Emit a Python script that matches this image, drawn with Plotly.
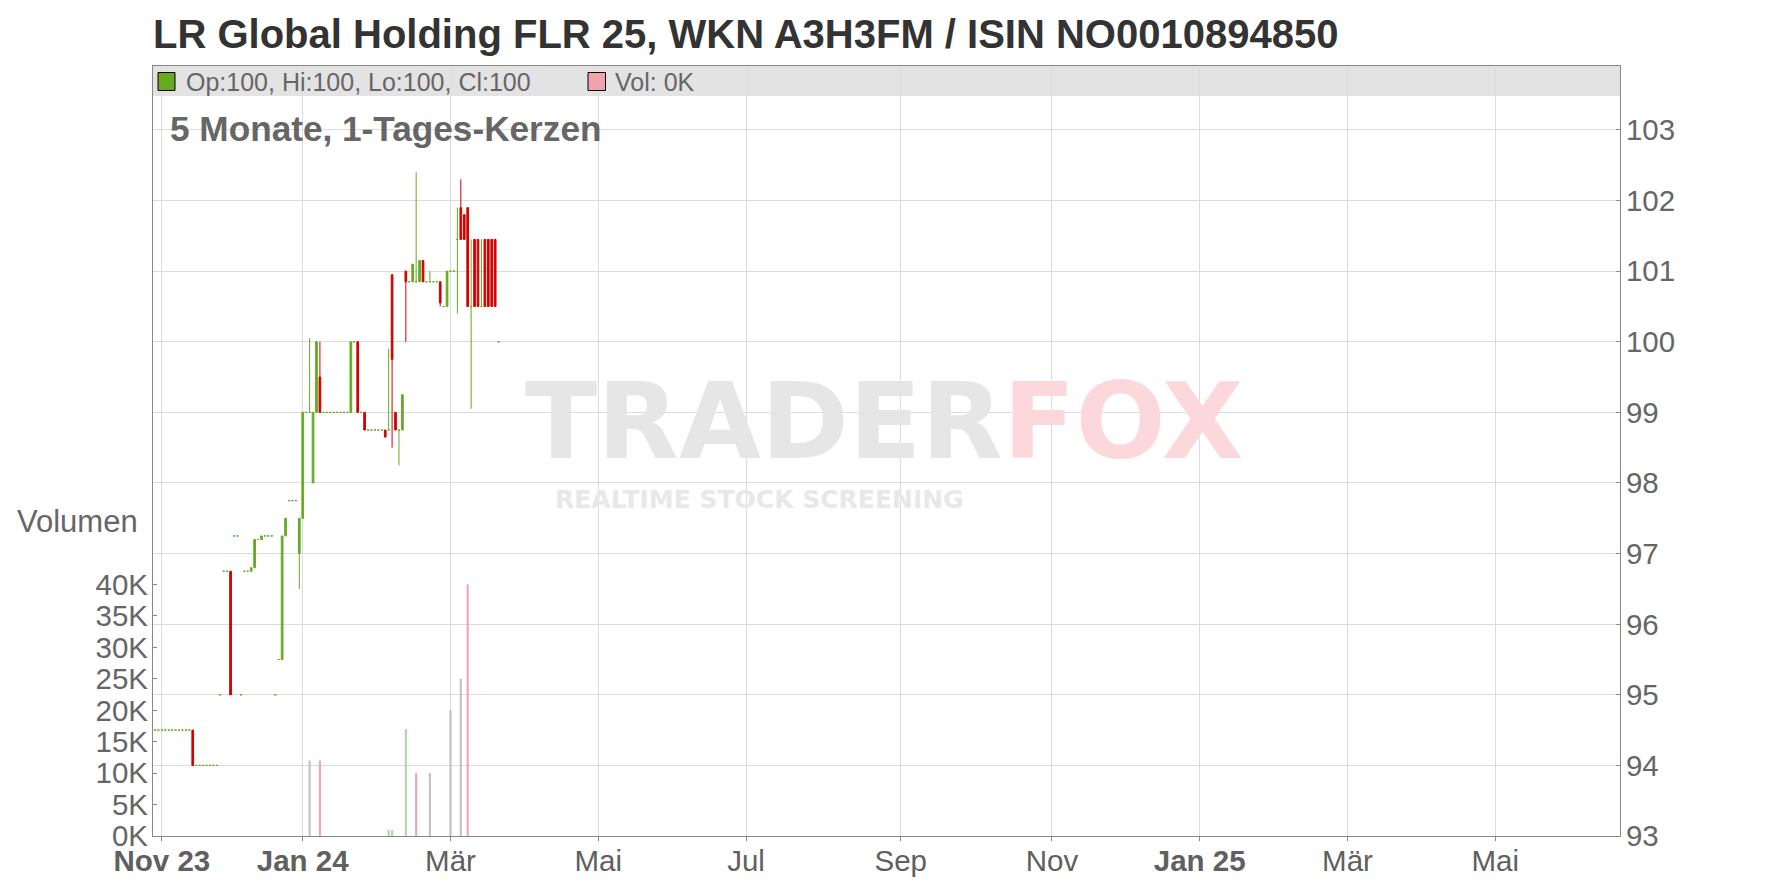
import plotly.graph_objects as go

# ---------------- data ----------------
TITLE = "LR Global Holding FLR 25, WKN A3H3FM / ISIN NO0010894850"
SUBTITLE = "5 Monate, 1-Tages-Kerzen"
LEGEND_OHLC = "Op:100, Hi:100, Lo:100, Cl:100"
LEGEND_VOL = "Vol: 0K"
VOL_TITLE = "Volumen"

dates = [
    "2023-10-27", "2023-10-30", "2023-10-31", "2023-11-01", "2023-11-02", "2023-11-03",
    "2023-11-06", "2023-11-07", "2023-11-08", "2023-11-09", "2023-11-10", "2023-11-13",
    "2023-11-14",
    "2023-11-15", "2023-11-16", "2023-11-17", "2023-11-20", "2023-11-21", "2023-11-22", "2023-11-23",
    "2023-11-24",
    "2023-11-27", "2023-11-28",
    "2023-11-29",
    "2023-11-30", "2023-12-01",
    "2023-12-04",
    "2023-12-05", "2023-12-06",
    "2023-12-07", "2023-12-08",
    "2023-12-11", "2023-12-12",
    "2023-12-13", "2023-12-14", "2023-12-15",
    "2023-12-18", "2023-12-19",
    "2023-12-20", "2023-12-21",
    "2023-12-22", "2023-12-27", "2023-12-28",
    "2023-12-29",
    "2024-01-02", "2024-01-03", "2024-01-04", "2024-01-05", "2024-01-08", "2024-01-09",
    "2024-01-10", "2024-01-11", "2024-01-12", "2024-01-15", "2024-01-16", "2024-01-17", "2024-01-18", "2024-01-19",
    "2024-01-22", "2024-01-23", "2024-01-24", "2024-01-25", "2024-01-26",
    "2024-01-29", "2024-01-30", "2024-01-31", "2024-02-01", "2024-02-02",
    "2024-02-05", "2024-02-06", "2024-02-07", "2024-02-08", "2024-02-09", "2024-02-12", "2024-02-13",
    "2024-02-14", "2024-02-15", "2024-02-16", "2024-02-19", "2024-02-20", "2024-02-21", "2024-02-22", "2024-02-23", "2024-02-26",
    "2024-02-27", "2024-02-28", "2024-02-29", "2024-03-01", "2024-03-04",
    "2024-03-05", "2024-03-06", "2024-03-07", "2024-03-08",
    "2024-03-11", "2024-03-12", "2024-03-13", "2024-03-14", "2024-03-15", "2024-03-18", "2024-03-19", "2024-03-20",
    "2024-03-21",
]

opens = [
    94.5, 94.5, 94.5, 94.5, 94.5, 94.5, 94.5, 94.5, 94.5, 94.5, 94.5, 94.5,
    94.5,
    94.0, 94.0, 94.0, 94.0, 94.0, 94.0, 94.0,
    95.0,
    96.75, 96.75,
    96.75,
    97.25, 97.25,
    95.0,
    96.75, 96.75,
    96.75, 96.8,
    97.2, 97.2,
    97.25, 97.25, 97.25,
    95.0, 95.5,
    95.5, 97.25,
    97.75, 97.75, 97.75,
    97.0,
    97.5, 99.0, 99.0, 98.0, 99.0, 99.5,
    99.0, 99.0, 99.0, 99.0, 99.0, 99.0, 99.0, 99.0,
    99.0, 100.0, 100.0, 99.0, 99.0,
    98.75, 98.75, 98.75, 98.75, 98.75,
    98.75, 98.75, 100.95, 99.0, 98.75, 98.75, 101.0,
    100.85, 100.85, 100.85, 100.85, 101.15, 100.85, 100.85, 100.85, 100.85,
    100.85, 100.5, 100.5, 101.0, 101.0,
    101.45, 101.9, 101.8, 101.9,
    100.5, 101.45, 101.45, 100.5, 101.45, 101.45, 101.45, 101.45,
    100.0,
]

highs = [
    94.5, 94.5, 94.5, 94.5, 94.5, 94.5, 94.5, 94.5, 94.5, 94.5, 94.5, 94.5,
    94.5,
    94.0, 94.0, 94.0, 94.0, 94.0, 94.0, 94.0,
    95.0,
    96.75, 96.75,
    96.75,
    97.25, 97.25,
    95.0,
    96.75, 96.75,
    96.8, 97.2,
    97.2, 97.25,
    97.25, 97.25, 97.25,
    95.0, 95.5,
    97.25, 97.5,
    97.75, 97.75, 97.75,
    97.5,
    99.0, 99.0, 100.05, 99.0, 100.0, 100.0,
    99.0, 99.0, 99.0, 99.0, 99.0, 99.0, 99.0, 99.0,
    100.0, 100.0, 100.0, 99.0, 99.0,
    98.75, 98.75, 98.75, 98.75, 98.75,
    98.75, 99.9, 100.95, 99.0, 98.75, 99.25, 101.0,
    100.85, 101.1, 102.4, 101.15, 101.15, 100.85, 101.0, 100.85, 100.85,
    100.85, 100.5, 101.0, 101.0, 101.0,
    101.9, 102.3, 101.8, 101.9,
    101.45, 101.45, 101.45, 101.45, 101.45, 101.45, 101.45, 101.45,
    100.0,
]

lows = [
    94.5, 94.5, 94.5, 94.5, 94.5, 94.5, 94.5, 94.5, 94.5, 94.5, 94.5, 94.5,
    94.0,
    94.0, 94.0, 94.0, 94.0, 94.0, 94.0, 94.0,
    95.0,
    96.75, 96.75,
    95.0,
    97.25, 97.25,
    95.0,
    96.75, 96.75,
    96.75, 96.8,
    97.2, 97.2,
    97.25, 97.25, 97.25,
    95.0, 95.5,
    95.5, 97.25,
    97.75, 97.75, 97.75,
    96.5,
    97.5, 99.0, 99.0, 98.0, 99.0, 99.0,
    99.0, 99.0, 99.0, 99.0, 99.0, 99.0, 99.0, 99.0,
    99.0, 100.0, 99.0, 99.0, 98.75,
    98.75, 98.75, 98.75, 98.75, 98.75,
    98.65, 98.75, 98.5, 98.75, 98.25, 98.75, 100.0,
    100.85, 100.85, 100.85, 100.85, 100.85, 100.85, 100.85, 100.85, 100.85,
    100.5, 100.5, 100.5, 101.0, 101.0,
    100.4, 101.45, 101.45, 100.5,
    99.05, 100.5, 100.5, 100.5, 100.5, 100.5, 100.5, 100.5,
    100.0,
]

closes = [
    94.5, 94.5, 94.5, 94.5, 94.5, 94.5, 94.5, 94.5, 94.5, 94.5, 94.5, 94.5,
    94.0,
    94.0, 94.0, 94.0, 94.0, 94.0, 94.0, 94.0,
    95.0,
    96.75, 96.75,
    95.0,
    97.25, 97.25,
    95.0,
    96.75, 96.75,
    96.8, 97.2,
    97.2, 97.25,
    97.25, 97.25, 97.25,
    95.0, 95.5,
    97.25, 97.5,
    97.75, 97.75, 97.75,
    97.5,
    99.0, 99.0, 99.0, 99.0, 100.0, 99.0,
    99.0, 99.0, 99.0, 99.0, 99.0, 99.0, 99.0, 99.0,
    100.0, 100.0, 99.0, 99.0, 98.75,
    98.75, 98.75, 98.75, 98.75, 98.75,
    98.65, 98.75, 99.75, 98.75, 98.75, 99.25, 100.85,
    100.85, 101.1, 100.85, 101.15, 100.85, 100.85, 100.85, 100.85, 100.85,
    100.55, 100.5, 101.0, 101.0, 101.0,
    101.45, 101.45, 101.45, 100.5,
    100.5, 100.5, 100.5, 100.5, 100.5, 100.5, 100.5, 100.5,
    100.0,
]

vol_dates = ["2024-01-04", "2024-01-09", "2024-02-06", "2024-02-07", "2024-02-13",
             "2024-02-16", "2024-02-22", "2024-03-01", "2024-03-06", "2024-03-08"]
vol_values = [12000, 12000, 950, 950, 17000, 10000, 10000, 20000, 25000, 40000]
vol_dirs = ["flat", "down", "up", "up", "up", "down", "flat", "flat", "flat", "down"]

price_ticks = [93, 94, 95, 96, 97, 98, 99, 100, 101, 102, 103]
vol_tickvals = [0, 5000, 10000, 15000, 20000, 25000, 30000, 35000, 40000]
vol_ticktext = ["0K", "5K", "10K", "15K", "20K", "25K", "30K", "35K", "40K"]
x_tickvals = ["2023-11-01", "2024-01-02", "2024-03-01", "2024-05-01", "2024-07-01",
              "2024-09-02", "2024-11-01", "2025-01-01", "2025-03-03", "2025-05-01"]
x_ticktext = ["<b>Nov 23</b>", "<b>Jan 24</b>", "Mär", "Mai", "Jul",
              "Sep", "Nov", "<b>Jan 25</b>", "Mär", "Mai"]
holidays = ["2023-12-25", "2023-12-26", "2024-01-01"]

# ---------------- style ----------------
GREEN = "#66aa22"
RED = "#d00000"
VOL_COLORS = {"up": "#a9d9a1", "down": "#f0a3ad", "flat": "#c0c0c0"}
FONT = "Liberation Sans, Arial, sans-serif"
TXT = "#666666"

W, H = 1760, 872
ML, MR, MT, MB = 145, 148, 58, 44
PW = W - ML - MR
PH = H - MT - MB


def px(sx):
    return (sx - 8 - ML) / PW


def py(sy):
    return (H - MB - (sy - 8)) / PH


up_i = [i for i in range(len(dates)) if closes[i] >= opens[i]]
dn_i = [i for i in range(len(dates)) if closes[i] < opens[i]]


def candle(idx, color):
    return go.Candlestick(
        x=[dates[i] for i in idx],
        open=[opens[i] for i in idx],
        high=[highs[i] for i in idx],
        low=[lows[i] for i in idx],
        close=[closes[i] for i in idx],
        increasing=dict(line=dict(color=color, width=1), fillcolor=color),
        decreasing=dict(line=dict(color=color, width=1), fillcolor=color),
        whiskerwidth=0,
        showlegend=False,
        hoverinfo="skip",
    )


fig = go.Figure()
fig.add_trace(go.Bar(
    x=vol_dates, y=vol_values, yaxis="y2",
    marker=dict(color=[VOL_COLORS[d] for d in vol_dirs], line=dict(width=0)),
    width=0.6 * 86400000, showlegend=False, hoverinfo="skip",
))
fig.add_trace(candle(up_i, GREEN))
fig.add_trace(candle(dn_i, RED))

shapes = [
    dict(type="rect", xref="paper", yref="paper", x0=0, x1=1, y0=py(96), y1=1,
         fillcolor="#e3e3e3", line=dict(width=0), layer="below"),
    dict(type="rect", xref="paper", yref="paper", x0=px(158), x1=px(175), y0=py(90.5), y1=py(72.5),
         fillcolor=GREEN, line=dict(color="#000000", width=1)),
    dict(type="rect", xref="paper", yref="paper", x0=px(588), x1=px(605.5), y0=py(90.5), y1=py(72.5),
         fillcolor="#f0a3ad", line=dict(color="#000000", width=1)),
]

annotations = [
    dict(text="<b>" + TITLE + "</b>", xref="paper", yref="paper", x=px(151), y=py(34),
         xanchor="left", yanchor="middle", showarrow=False,
         font=dict(family=FONT, size=40, color="#333333")),
    dict(text=LEGEND_OHLC, xref="paper", yref="paper", x=px(184), y=py(82),
         xanchor="left", yanchor="middle", showarrow=False,
         font=dict(family=FONT, size=25, color=TXT)),
    dict(text=LEGEND_VOL, xref="paper", yref="paper", x=px(613), y=py(82),
         xanchor="left", yanchor="middle", showarrow=False,
         font=dict(family=FONT, size=25, color=TXT)),
    dict(text="<b>" + SUBTITLE + "</b>", xref="paper", yref="paper", x=px(168), y=py(128),
         xanchor="left", yanchor="middle", showarrow=False,
         font=dict(family=FONT, size=35.2, color=TXT)),
    dict(text=VOL_TITLE, xref="paper", yref="paper", x=px(140), y=py(521),
         xanchor="right", yanchor="middle", showarrow=False,
         font=dict(family=FONT, size=31, color=TXT)),
    dict(text="<b><span style='color:#e6e6e6'>TRADER</span><span style='color:#fcd8dc'>FOX</span></b>",
         xref="paper", yref="paper", x=px(884), y=py(421),
         xanchor="center", yanchor="middle", showarrow=False,
         font=dict(family="DejaVu Sans", size=106, color="#e6e6e6")),
    dict(text="<b>REALTIME STOCK SCREENING</b>",
         xref="paper", yref="paper", x=px(759), y=py(499),
         xanchor="center", yanchor="middle", showarrow=False,
         font=dict(family="DejaVu Sans", size=25, color="#e8e8e8")),
]

fig.update_layout(
    width=W, height=H,
    margin=dict(l=ML, r=MR, t=MT, b=MB, pad=0, autoexpand=False),
    paper_bgcolor="white", plot_bgcolor="white",
    font=dict(family=FONT, size=29.5, color=TXT),
    showlegend=False,
    shapes=shapes,
    annotations=annotations,
    xaxis=dict(
        type="date",
        range=["2023-10-27 10:19", "2025-06-20 07:12"],
        rangebreaks=[dict(bounds=["sat", "mon"]), dict(values=holidays)],
        tickvals=x_tickvals, ticktext=x_ticktext,
        ticks="outside", ticklen=4, tickcolor="#888888",
        showgrid=True, gridcolor="#dcdcdc", gridwidth=1,
        showline=True, linecolor="#888888", linewidth=1, mirror=True,
        zeroline=False, rangeslider=dict(visible=False),
        tickfont=dict(family=FONT, size=29.5, color="#606060"),
        ticklabelstandoff=-5, automargin=False,
    ),
    yaxis=dict(
        side="right", range=[93, 103.906], tickvals=price_ticks,
        ticks="inside", ticklen=4, tickcolor="#888888",
        showgrid=True, gridcolor="#dcdcdc", gridwidth=1,
        showline=True, linecolor="#888888", linewidth=1, mirror=True,
        zeroline=False,
        tickfont=dict(family=FONT, size=29.5, color=TXT),
        ticklabelstandoff=-1, automargin=False,
    ),
    yaxis2=dict(
        overlaying="y", side="left", range=[0, 122400],
        tickvals=vol_tickvals, ticktext=vol_ticktext,
        ticks="inside", ticklen=4, tickcolor="#888888",
        showgrid=False, zeroline=False, showline=False,
        tickfont=dict(family=FONT, size=29.5, color=TXT),
        ticklabelstandoff=4, automargin=False,
    ),
)

fig.write_html("out.html", config={"displayModeBar": False})
